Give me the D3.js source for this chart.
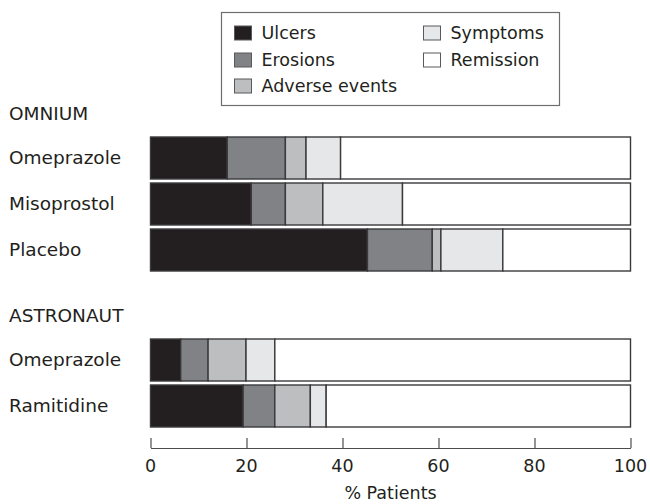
<!DOCTYPE html>
<html>
<head>
<meta charset="utf-8">
<script src="https://cdn.jsdelivr.net/npm/d3@7"></script>
<style>
  html, body { margin: 0; padding: 0; background: #fff; }
  svg { display: block; }
  text { font-family: "DejaVu Sans", sans-serif; fill: #231f20; }
</style>
</head>
<body>
<div id="chart"></div>
<script>
// ---- data ----
const groups = ["OMNIUM", "ASTRONAUT"];
const treatments = ["Omeprazole", "Misoprostol", "Placebo", "Omeprazole", "Ramitidine"];
const treatmentGroup = ["OMNIUM", "OMNIUM", "OMNIUM", "ASTRONAUT", "ASTRONAUT"];
const seriesNames = ["Ulcers", "Erosions", "Adverse events", "Symptoms", "Remission"];
const ulcers    = [16.0, 21.0, 45.2, 6.3, 19.3];
const erosions  = [12.1,  7.1, 13.5, 5.7,  6.6];
const adverse   = [ 4.3,  7.8,  1.8, 7.9,  7.4];
const symptoms  = [ 7.2, 16.6, 12.9, 6.0,  3.3];
const remission = [60.4, 47.5, 26.6, 74.1, 63.4];
const xTicks = [0, 20, 40, 60, 80, 100];
const xLabel = "% Patients";

// ---- styles ----
const colors = ["#231f20", "#808285", "#bcbec0", "#e6e7e8", "#ffffff"];
const W = 650, H = 504;
const FS = 17.5, FS_ROW = 18.5;
const svg = d3.select("#chart").append("svg").attr("width", W).attr("height", H);

const x = d3.scaleLinear().domain([0, 100]).range([150.5, 630.5]);

const rows = treatments.map((t, i) => ({
  name: t, group: treatmentGroup[i], idx: i,
  values: [ulcers[i], erosions[i], adverse[i], symptoms[i], remission[i]]
}));

const groupTop = { "OMNIUM": 135, "ASTRONAUT": 337 };
const yScales = {};
groups.forEach(g => {
  const names = rows.filter(r => r.group === g).map(r => r.idx);
  yScales[g] = d3.scaleBand().domain(names)
    .range([groupTop[g], groupTop[g] + 46 * names.length])
    .paddingInner(4 / 46).paddingOuter(2 / 46);
});

const stackData = rows.map(r => {
  let acc = 0;
  return r.values.map((v, k) => { const s = { x0: acc, x1: acc + v, k, row: r }; acc += v; return s; });
});

const barG = svg.append("g");
stackData.forEach(segs => {
  segs.forEach(s => {
    const ys = yScales[s.row.group];
    barG.append("rect")
      .attr("x", x(s.x0))
      .attr("y", ys(s.row.idx))
      .attr("width", x(s.x1) - x(s.x0))
      .attr("height", ys.bandwidth())
      .attr("fill", colors[s.k])
      .attr("stroke", "#3a3a3c")
      .attr("stroke-width", 1.4);
  });
});

rows.forEach(r => {
  const ys = yScales[r.group];
  svg.append("text")
    .attr("x", 9)
    .attr("y", ys(r.idx) + ys.bandwidth() / 2)
    .attr("dy", "0.35em")
    .attr("font-size", FS_ROW)
    .text(r.name);
});
groups.forEach(g => {
  const ys = yScales[g];
  const first = ys.domain()[0];
  svg.append("text")
    .attr("x", 9)
    .attr("y", ys(first) + ys.bandwidth() / 2 - 44)
    .attr("dy", "0.35em")
    .attr("font-size", FS_ROW)
    .text(g);
});

const axis = d3.axisTop(x).tickValues(xTicks).tickSize(10).tickSizeOuter(0).tickFormat(d3.format("d"));
const ax = svg.append("g").attr("transform", "translate(0,448)").call(axis);
ax.select(".domain").attr("stroke", "#4d4d4f").attr("stroke-width", 1.2);
ax.selectAll(".tick line").attr("stroke", "#4d4d4f").attr("stroke-width", 1.2);
ax.selectAll(".tick text").remove();
svg.append("g").selectAll("text").data(xTicks).join("text")
  .attr("x", d => x(d)).attr("y", 466).attr("dy", "0.35em")
  .attr("text-anchor", "middle").attr("font-size", FS).text(d => d);
svg.append("text").attr("x", x(50)).attr("y", 493).attr("dy", "0.35em")
  .attr("text-anchor", "middle").attr("font-size", FS).text(xLabel);

const lg = svg.append("g");
lg.append("rect").attr("x", 221.5).attr("y", 12.5).attr("width", 338).attr("height", 93)
  .attr("fill", "#fff").attr("stroke", "#6d6e71").attr("stroke-width", 1.2);
const legPos = [[0, 0], [0, 1], [0, 2], [1, 0], [1, 1]];
const colX = [234.5, 423.5], rowY = [33, 60, 86];
seriesNames.forEach((n, k) => {
  const [c, r] = legPos[k];
  lg.append("rect").attr("x", colX[c]).attr("y", rowY[r] - 7).attr("width", 17).attr("height", 14)
    .attr("fill", colors[k]).attr("stroke", "#58595b").attr("stroke-width", 1);
  lg.append("text").attr("x", colX[c] + 27).attr("y", rowY[r]).attr("dy", "0.35em")
    .attr("font-size", FS).text(n);
});
</script>
</body>
</html>
